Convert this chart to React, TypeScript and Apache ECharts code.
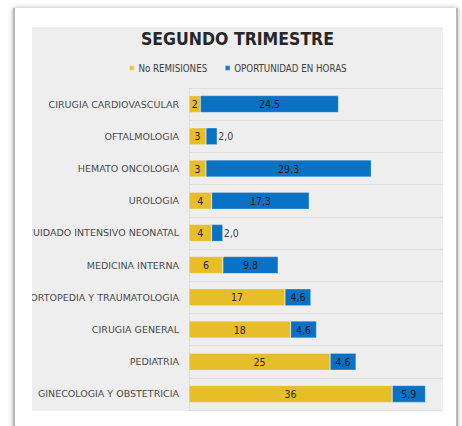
import React, { useEffect, useRef } from "react";
import * as echarts from "echarts";

const titleText = "SEGUNDO TRIMESTRE";
const seriesNames = ["No REMISIONES", "OPORTUNIDAD EN HORAS"];
const categories = [
  "CIRUGIA CARDIOVASCULAR",
  "OFTALMOLOGIA",
  "HEMATO ONCOLOGIA",
  "UROLOGIA",
  "CUIDADO INTENSIVO NEONATAL",
  "MEDICINA INTERNA",
  "ORTOPEDIA Y TRAUMATOLOGIA",
  "CIRUGIA GENERAL",
  "PEDIATRIA",
  "GINECOLOGIA Y OBSTETRICIA",
];
const remisiones = [2, 3, 3, 4, 4, 6, 17, 18, 25, 36];
const oportunidad = [24.5, 2.0, 29.3, 17.3, 2.0, 9.8, 4.6, 4.6, 4.6, 5.9];
const xMax = 45;

const NARROW = "'DejaVu Sans Condensed', sans-serif";

export default function App() {
  const ref = useRef<HTMLDivElement>(null);
  useEffect(() => {
    if (!ref.current) return;
    const chart = echarts.init(ref.current, undefined, { renderer: "svg" });
    chart.setOption({
      animation: false,
      backgroundColor: "transparent",
      title: {
        text: titleText,
        left: "center",
        top: -2,
        textStyle: {
          fontFamily: NARROW,
          fontWeight: "bold",
          fontSize: 17.5,
          color: "#262626",
        },
      },
      legend: {
        data: seriesNames,
        left: "center",
        top: 31,
        itemWidth: 5,
        itemHeight: 5,
        itemGap: 17,
        icon: "rect",
        textStyle: { fontFamily: NARROW, fontSize: 9.7, color: "#404040", padding: [0, 0, 0, -1] },
      },
      grid: { left: 197, right: 40, top: 61, bottom: 1, containLabel: false },
      xAxis: {
        type: "value",
        min: 0,
        max: xMax,
        show: false,
        splitLine: { show: false },
      },
      yAxis: {
        type: "category",
        data: categories,
        inverse: true,
        axisTick: { show: false },
        axisLine: { show: true, lineStyle: { color: "#dcdcdc" } },
        splitLine: { show: true, lineStyle: { color: "#e0e0e0", width: 1 } },
        axisLabel: {
          fontFamily: "'DejaVu Sans', sans-serif",
          fontSize: 9.5,
          color: "#4a4a4a",
          margin: 10,
        },
      },
      series: [
        {
          name: seriesNames[0],
          type: "bar",
          stack: "total",
          barCategoryGap: "47%",
          data: remisiones,
          itemStyle: { color: "#E8BD2A", borderColor: "rgba(255,255,255,0.35)", borderWidth: 0.6 },
          label: {
            show: true,
            position: "inside",
            fontFamily: NARROW,
            fontSize: 10.5,
            color: "#262626",
          },
        },
        {
          name: seriesNames[1],
          type: "bar",
          stack: "total",
          barCategoryGap: "47%",
          data: oportunidad.map((v) =>
            v < 3
              ? { value: v, label: { position: "right", distance: 1, color: "#404040" } }
              : v
          ),
          itemStyle: { color: "#0A72C4", borderColor: "rgba(255,255,255,0.35)", borderWidth: 0.6 },
          label: {
            show: true,
            position: "inside",
            fontFamily: NARROW,
            fontSize: 10.5,
            color: "#1a1a1a",
            formatter: (p: any) => Number(p.value).toFixed(1).replace(".", ","),
          },
        },
      ],
    });
    return () => chart.dispose();
  }, []);

  return (
    <div style={{ position: "absolute", left: 0, top: 0, width: 462, height: 426, overflow: "hidden", background: "#ffffff" }}>
      <div
        style={{
          position: "absolute",
          left: 13,
          top: 8,
          width: 445,
          height: 430,
          background: "#ffffff",
          borderLeft: "2px solid #b8b8b8",
          borderRight: "2px solid #b8b8b8",
          boxSizing: "border-box",
          boxShadow: "0 0 5px rgba(0,0,0,0.3)",
        }}
      />
      <div
        style={{
          position: "absolute",
          left: 32,
          top: 27,
          width: 411,
          height: 384,
          background: "#eeeeee",
          overflow: "hidden",
        }}
      >
        <div ref={ref} style={{ position: "absolute", left: -40, top: 0, width: 491, height: 384 }} />
      </div>
    </div>
  );
}
